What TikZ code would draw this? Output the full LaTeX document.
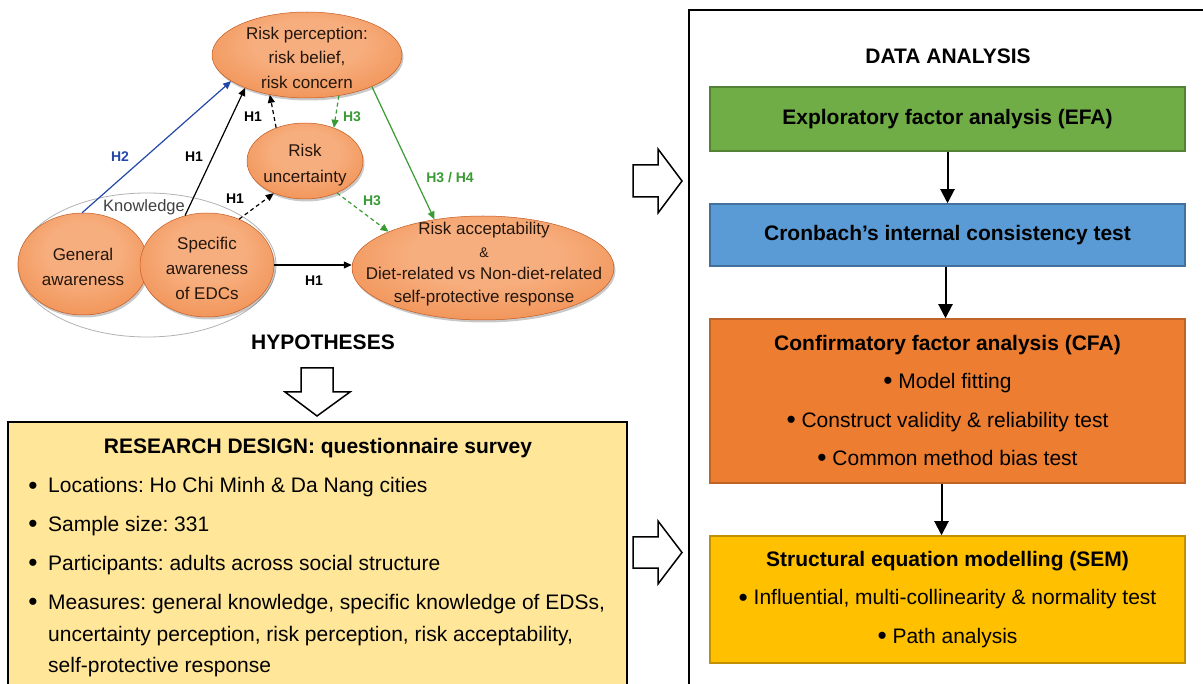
\documentclass[tikz,border=0pt]{standalone}
\usepackage{fontspec}
\setmainfont{Liberation Sans}
\usetikzlibrary{arrows.meta,shapes.geometric,shadows,calc}
\frenchspacing

\definecolor{ballin}{HTML}{F7AE7E}
\definecolor{ballmid}{HTML}{EF8C4C}
\definecolor{ballout}{HTML}{DA6424}
\definecolor{bubbleedge}{HTML}{C55A20}
\definecolor{bubbletxt}{HTML}{24160C}
\definecolor{hblue}{HTML}{2448A8}
\definecolor{hgreen}{HTML}{3A9A34}
\definecolor{designfill}{HTML}{FFE699}
\definecolor{efafill}{HTML}{70AD47}
\definecolor{efaedge}{HTML}{548235}
\definecolor{cronfill}{HTML}{5B9BD5}
\definecolor{cronedge}{HTML}{41719C}
\definecolor{cfafill}{HTML}{ED7D31}
\definecolor{cfaedge}{HTML}{BE6428}
\definecolor{semfill}{HTML}{FFC000}
\definecolor{semedge}{HTML}{C09000}

\pgfdeclareradialshading{orangeball}{\pgfpoint{0bp}{8bp}}{%
  color(0bp)=(ballin); color(14bp)=(ballin); color(36bp)=(ballmid);
  color(52bp)=(ballout); color(60bp)=(ballout)}

\newcommand\dgmbody{\fontsize{21}{25}\selectfont}
\newcommand\dgmbubble{\fontsize{17}{24.5}\selectfont}
\newcommand\dgmlab{\fontsize{14}{16}\selectfont\bfseries}
\newcommand\dgmbullet{\raisebox{-0.06em}{\scalebox{1.25}{\textbullet}}}

\begin{document}
\begin{tikzpicture}[x=1pt,y=-1pt,
  bubble/.style={ellipse, inner sep=0pt, shading=orangeball, draw=bubbleedge,
    line width=0.5pt, drop shadow={shadow xshift=1.5pt, shadow yshift=-2.5pt,
    opacity=0.3, fill=black!70}},
  bubbletext/.style={align=center, font=\dgmbubble, text=bubbletxt, inner sep=0pt},
  hlab/.style={font=\dgmlab, inner sep=0pt},
  link/.style={line width=1.2pt, -{Triangle[length=8pt,width=7pt]}},
  dlink/.style={link, dash pattern=on 4pt off 3pt},
  flowbox/.style={rectangle, line width=1.5pt, minimum width=475pt, inner sep=0pt,
    align=center, font=\dgmbody},
  flow/.style={line width=2pt, -{Triangle[length=14pt,width=14pt]}},
  blockarrow/.style={draw=black, line width=1.5pt, fill=white, line join=miter},
  bodytext/.style={font=\dgmbody, inner sep=0pt},
  heading/.style={font=\dgmbody\bfseries, inner sep=0pt}
]
\useasboundingbox (0,0) rectangle (1203,684);

% ---------- hypotheses model ----------
\node[ellipse, draw=black!30, line width=0.8pt, minimum width=258pt,
  minimum height=144pt, inner sep=0pt] (kn) at (147,265) {};
\node[font=\fontsize{16.5}{18}\selectfont, text=black!75, inner sep=0pt] (knt) at (144,207) {Knowledge};

\node[bubble, minimum width=190pt, minimum height=86pt] (rp) at (307,55) {};
\node[bubbletext] (rpt) at (307,57.5) {Risk perception:\\risk belief,\\risk concern};

\node[bubble, minimum width=116pt, minimum height=76pt] (ru) at (305,161) {};
\node[bubbletext, font=\fontsize{17}{26}\selectfont] (rut) at (305,165) {Risk\\uncertainty};

\node[bubble, minimum width=130pt, minimum height=102pt] (ga) at (83,264) {};
\node[bubbletext, font=\fontsize{17}{25}\selectfont] (gat) at (83,266.5) {General\\awareness};

\node[bubble, minimum width=134pt, minimum height=104pt] (sa) at (207,265) {};
\node[bubbletext, font=\fontsize{17}{25}\selectfont] (sat) at (207,268) {Specific\\awareness\\of EDCs};

\node[bubble, minimum width=262pt, minimum height=104pt] (ra) at (483,268) {};
\node[bubbletext, font=\fontsize{17}{22.7}\selectfont] (rat) at (484,264)
  {Risk acceptability\\{\fontsize{14}{16}\selectfont\&}\\Diet-related vs Non-diet-related\\self-protective response};

% hypothesised paths
\draw[link, hblue] (ga.91) -- (rp.199);
\draw[link] (sa.114) -- (rp.208);
\draw[dlink] (ru.131) -- (rp.227);
\draw[dlink, hgreen] (rp.308) -- (ru.49);
\draw[dlink] (sa.55) -- (ru.226);
\draw[dlink, hgreen] (ru.315) -- (ra.159);
\draw[link, hgreen] (rp.334) -- (ra.135);
\draw[link] (sa.east) -- (ra.west |- sa.east);

\node[hlab, text=hblue] (l1) at (120,157) {H2};
\node[hlab] (l2) at (194,157) {H1};
\node[hlab] (l3) at (253,117) {H1};
\node[hlab, text=hgreen] (l4) at (352,117) {H3};
\node[hlab] (l5) at (235,199) {H1};
\node[hlab, text=hgreen] (l6) at (372,201) {H3};
\node[hlab, text=hgreen] (l7) at (450,178) {H3 / H4};
\node[hlab] (l8) at (314,281) {H1};

\node[heading] (hyp) at (323,342) {HYPOTHESES};

% ---------- block arrows ----------
\draw[blockarrow] (301,368) -- (333,368) -- (333,392) -- (350,392) -- (317,416)
  -- (285,392) -- (301,392) -- cycle;
\draw[blockarrow] (633,165) -- (658,165) -- (658,149) -- (682,181) -- (658,213)
  -- (658,197) -- (633,197) -- cycle;
\draw[blockarrow] (633,537) -- (658,537) -- (658,521) -- (682,552.5) -- (658,584)
  -- (658,568) -- (633,568) -- cycle;

% ---------- research design ----------
\fill[designfill] (8,422) rectangle (627,684);
\draw[line width=2pt] (8,690) -- (8,422) -- (627,422) -- (627,690);
\node[heading, anchor=base] (rdt) at (318,454) {RESEARCH DESIGN: questionnaire survey};
\node[bodytext, anchor=base] (b1) at (33,493) {\dgmbullet};
\node[bodytext, anchor=base west] (t1) at (48,493) {Locations: Ho Chi Minh \& Da Nang cities};
\node[bodytext, anchor=base] (b2) at (33,531.5) {\dgmbullet};
\node[bodytext, anchor=base west] (t2) at (48,531.5) {Sample size: 331};
\node[bodytext, anchor=base] (b3) at (33,570) {\dgmbullet};
\node[bodytext, anchor=base west] (t3) at (48,570) {Participants: adults across social structure};
\node[bodytext, anchor=base] (b4) at (33,609) {\dgmbullet};
\node[bodytext, anchor=base west] (t4) at (48,609) {Measures: general knowledge, specific knowledge of EDSs,};
\node[bodytext, anchor=base west] (t5) at (48,641) {uncertainty perception, risk perception, risk acceptability,};
\node[bodytext, anchor=base west] (t6) at (48,672) {self-protective response};

% ---------- data analysis ----------
\draw[line width=2pt] (689,690) -- (689,10) -- (1210,10);
\node[heading] (dat) at (948,56) {DATA ANALYSIS};

\node[flowbox, fill=efafill, draw=efaedge, minimum height=64pt] (efa) at (947.5,119)
  {\bfseries Exploratory factor analysis (EFA)};
\node[flowbox, fill=cronfill, draw=cronedge, minimum height=62pt] (cron) at (947.5,235)
  {\bfseries Cronbach’s internal consistency test};
\node[flowbox, fill=cfafill, draw=cfaedge, minimum height=164pt,
  font=\fontsize{21}{38.5}\selectfont] (cfa) at (947.5,401)
  {\textbf{Confirmatory factor analysis (CFA)}\\\dgmbullet\ Model fitting\\
   \dgmbullet\ Construct validity \& reliability test\\\dgmbullet\ Common method bias test};
\node[flowbox, fill=semfill, draw=semedge, minimum height=127pt,
  font=\fontsize{21}{38.5}\selectfont] (sem) at (947.5,599.5)
  {\textbf{Structural equation modelling (SEM)}\\
   \dgmbullet\ Influential, multi-collinearity \& normality test\\\dgmbullet\ Path analysis};

\draw[flow] (efa.south) -- (cron.north);
\draw[flow] ([xshift=-2pt]cron.south) -- ([xshift=-2pt]cfa.north);
\draw[flow] ([xshift=-6pt]cfa.south) -- ([xshift=-6pt]sem.north);
\end{tikzpicture}
\end{document}
